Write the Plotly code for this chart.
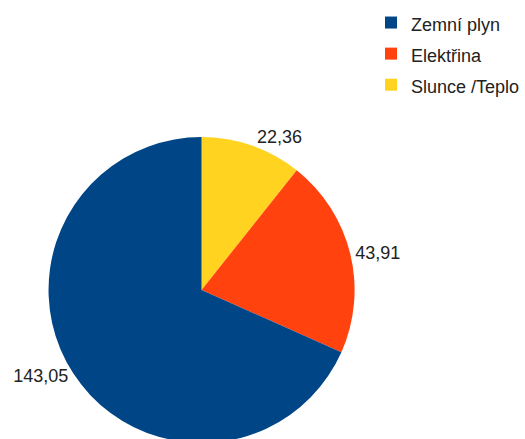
import plotly.graph_objects as go

labels = ["Slunce /Teplo", "Elektřina", "Zemní plyn"]
values = [22.36, 43.91, 143.05]
colors = ["#ffd320", "#ff420e", "#004586"]

W, H = 525, 450

legend_labels = ['<span style="font-size:18px">%s</span>' % s for s in labels]

fig = go.Figure(go.Pie(
    labels=legend_labels,
    values=values,
    sort=False,
    direction="clockwise",
    rotation=0,
    marker=dict(colors=colors, line=dict(width=0)),
    texttemplate="%{value:.2f}",
    textposition="outside",
    textfont=dict(family="Liberation Sans, Arial, sans-serif", size=18, color="#222222"),
    hoverinfo="label+value",
    domain=dict(x=[49 / W, 358 / W], y=[1 - 444.5 / H, 1 - 135.5 / H]),
))

fig.update_layout(
    width=W,
    height=H,
    separators=", ",
    margin=dict(l=0, r=0, t=0, b=0),
    paper_bgcolor="white",
    plot_bgcolor="white",
    showlegend=True,
    legend=dict(
        x=0.7138, y=1 - 2 / H, xanchor="left", yanchor="top",
        traceorder="reversed",
        font=dict(family="Liberation Sans, Arial, sans-serif", size=21.6, color="#222222"),
        bgcolor="rgba(0,0,0,0)",
    ),
)

fig.write_html(
    "out.html",
    post_script="document.documentElement.style.overflow='hidden';document.body.style.overflow='hidden';",
)
